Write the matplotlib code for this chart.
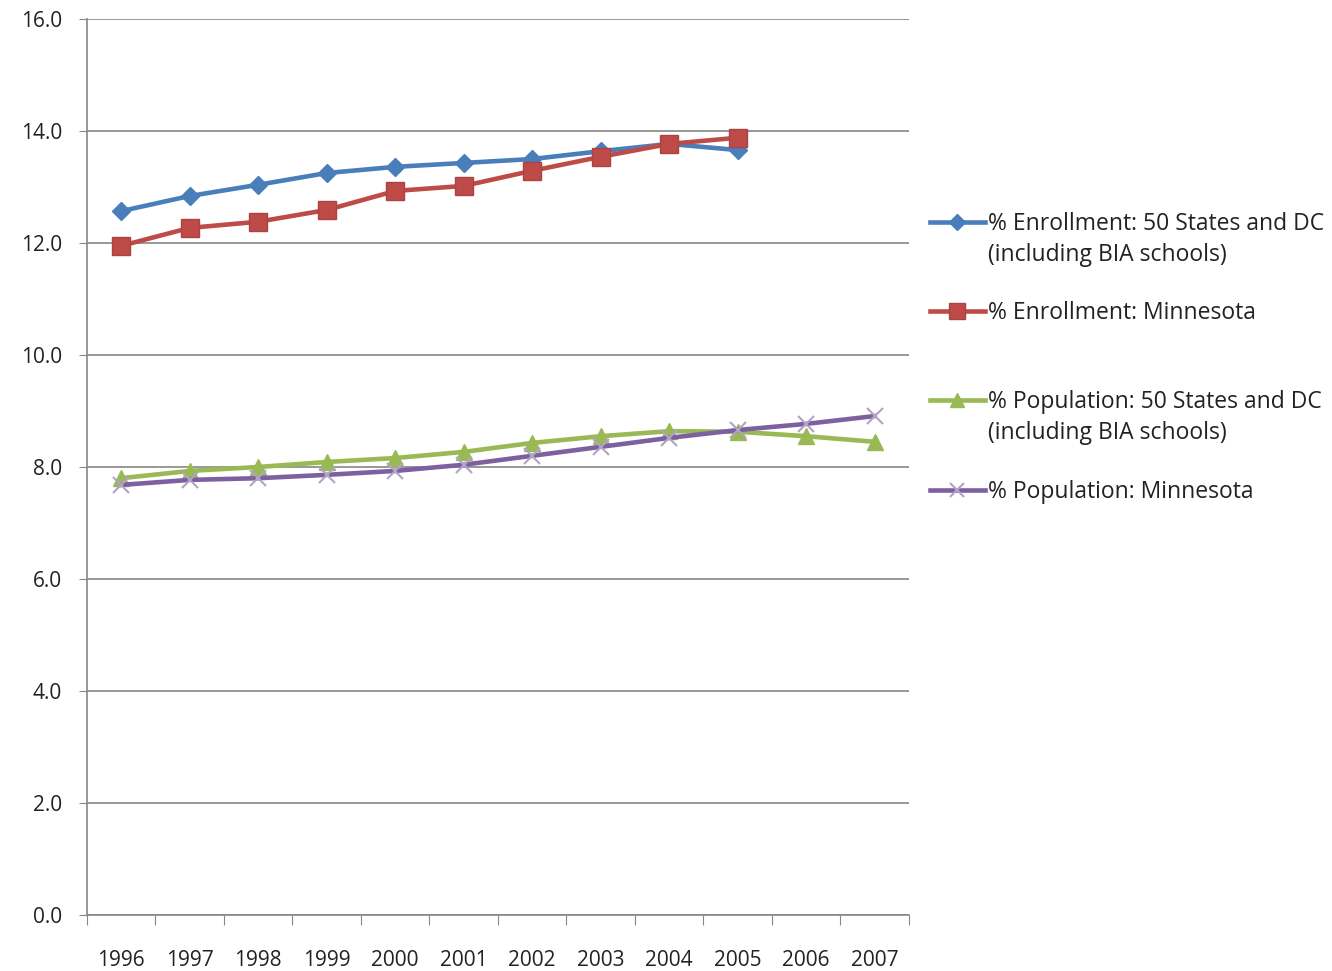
import matplotlib.pyplot as plt
from matplotlib.lines import Line2D
import numpy as np

plt.rcParams['font.family'] = ['Open Sans', 'DejaVu Sans']

years = ['1996', '1997', '1998', '1999', '2000', '2001', '2002', '2003', '2004', '2005', '2006', '2007']
enroll_us = [12.57, 12.84, 13.04, 13.25, 13.36, 13.43, 13.50, 13.64, 13.77, 13.66]
enroll_mn = [11.95, 12.27, 12.38, 12.59, 12.93, 13.02, 13.29, 13.54, 13.77, 13.88]
pop_us = [7.80, 7.93, 8.00, 8.09, 8.16, 8.27, 8.43, 8.55, 8.64, 8.63, 8.55, 8.45]
pop_mn = [7.68, 7.77, 7.80, 7.86, 7.93, 8.04, 8.20, 8.36, 8.52, 8.66, 8.77, 8.91]

labels = ['% Enrollment: 50 States and DC\n(including BIA schools)',
          '% Enrollment: Minnesota',
          '% Population: 50 States and DC\n(including BIA schools)',
          '% Population: Minnesota']

fig = plt.figure(figsize=(13.32, 9.71), dpi=100)
ax = fig.add_axes([0.0653, 0.0577, 0.6171, 0.9227])

x = np.arange(len(years))
styles = [
    dict(color='#4A7EBB', marker='D', markersize=9, mfc='#4A7EBB', mec='#4A7EBB'),
    dict(color='#BE4B48', marker='s', markersize=13, mfc='#BE4B48', mec='#A94442'),
    dict(color='#98B954', marker='^', markersize=12, mfc='#98B954', mec='#98B954'),
    dict(color='#7D60A0', marker='x', markersize=12, mfc='none', mec='#B3A2C7', mew=1.5),
]
series = [enroll_us, enroll_mn, pop_us, pop_mn]
for s, st in zip(series, styles):
    ax.plot(x[:len(s)], s, lw=3.3, zorder=3, **st)

ax.set_xlim(-0.5, len(years) - 0.5)
ax.set_ylim(0, 16)
ax.set_yticks(np.arange(0, 16.1, 2))
ax.set_yticklabels(['%.1f' % v for v in np.arange(0, 16.1, 2)], fontsize=15, color='#222222')
ax.yaxis.grid(True, color='#868686', lw=1.2)
ax.set_axisbelow(True)

ax.set_xticks(np.arange(-0.5, len(years), 1))
ax.set_xticklabels([])
ax.set_xticks(x, minor=True)
ax.set_xticklabels(years, minor=True, fontsize=15, color='#222222')
ax.tick_params(axis='x', which='major', length=7, color='#868686', direction='out')
ax.tick_params(axis='x', which='minor', length=0, pad=25)
ax.tick_params(axis='y', length=6, color='#868686', direction='out', pad=12)

for side in ['top', 'right']:
    ax.spines[side].set_visible(False)
for side in ['left', 'bottom']:
    ax.spines[side].set_color('#868686')
    ax.spines[side].set_linewidth(1.2)

# legend drawn by hand so the marker sits on the first text line
leg_y = [222, 311, 400, 490]
for lab, st, yy in zip(labels, styles, leg_y):
    fy = 1 - yy / 971
    fig.add_artist(Line2D([930 / 1332, 985 / 1332], [fy, fy], lw=3.3, color=st['color'],
                          transform=fig.transFigure))
    fig.add_artist(Line2D([957 / 1332], [fy], transform=fig.transFigure, lw=0,
                          **{k: v for k, v in st.items() if k not in ('color', 'markersize')},
                          markersize=st['markersize'] * 0.85))
    fig.text(988 / 1332, 1 - (yy - 10) / 971, lab, fontsize=16.5, va='top', ha='left',
             color='#222222', linespacing=1.38, transform=fig.transFigure)

fig.savefig('out.png', dpi=100)
